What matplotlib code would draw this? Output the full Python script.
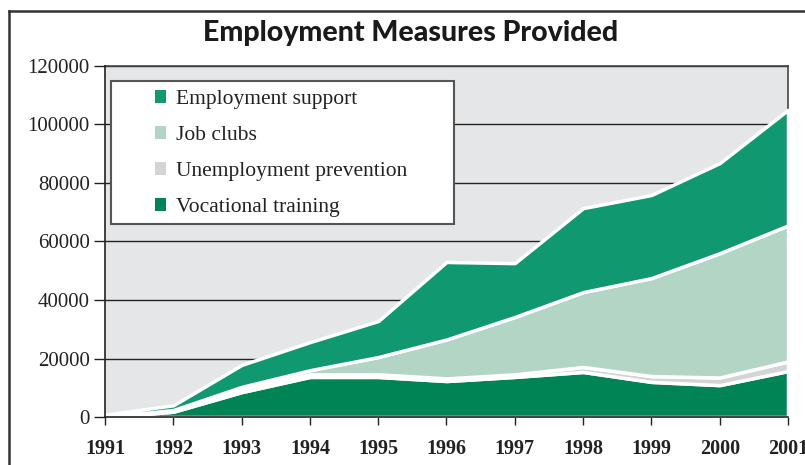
import matplotlib.pyplot as plt
from matplotlib.patches import Patch, Rectangle
from matplotlib.lines import Line2D

years = [1991, 1992, 1993, 1994, 1995, 1996, 1997, 1998, 1999, 2000, 2001]
vocational = [0, 1800, 8500, 13700, 13700, 12300, 13700, 15400, 12000, 10900, 15700]
unemp_prevention = [0, 300, 900, 900, 900, 900, 900, 1700, 2000, 2600, 3300]
job_clubs = [0, 300, 900, 1400, 5900, 13300, 19600, 25600, 33500, 42500, 46500]
emp_support = [800, 1600, 7500, 9600, 12300, 26500, 18400, 28700, 28400, 30800, 39500]

labels = ['Vocational training', 'Unemployment prevention', 'Job clubs', 'Employment support']
colors = ['#008456', '#d3d4d6', '#b3d5c6', '#109870']

fig = plt.figure(figsize=(8.05, 4.65), dpi=100)
ax = fig.add_axes([105/805, 1-417/465, 683/805, 351/465])
ax.set_facecolor('#e5e6e8')

polys = ax.stackplot(years, vocational, unemp_prevention, job_clubs, emp_support,
                     colors=colors, edgecolor='white', linewidth=2.5)
for p in polys:
    p.set_zorder(3)

ax.set_xlim(1991, 2001)
ax.set_ylim(0, 120000)
ax.set_yticks(range(0, 120001, 20000))
ax.set_xticks(years)
ax.grid(axis='y', color='#222222', linewidth=1)
ax.set_axisbelow(True)

for s in ['top', 'right']:
    ax.spines[s].set_color('#444444')
    ax.spines[s].set_linewidth(1.2)
for s in ['left', 'bottom']:
    ax.spines[s].set_color('#222222')
    ax.spines[s].set_linewidth(1.2)
    ax.spines[s].set_zorder(4)

ax.tick_params(axis='y', length=8, width=1, color='#222222', pad=3, labelsize=15)
ax.tick_params(axis='x', length=6, width=1, color='#222222', pad=10, labelsize=14.5)
for t in ax.get_yticklabels():
    t.set_fontfamily('Liberation Serif')
    t.set_color('#222222')
for t in ax.get_xticklabels():
    t.set_fontfamily('Liberation Serif')
    t.set_fontweight('bold')
    t.set_color('#222222')

# legend box
x0 = (111-105)/683
y0 = (417-224)/351
ax.add_patch(Rectangle((x0, y0), (454-111)/683, (224-81)/351, transform=ax.transAxes,
                       facecolor='white', edgecolor='#555555', linewidth=1.5, zorder=5))
handles = [Patch(facecolor=c, edgecolor='none') for c in colors[::-1]]
leg = ax.legend(handles, labels[::-1], loc='upper left', bbox_to_anchor=(0.0732, 0.931),
                frameon=False, borderpad=0, borderaxespad=0,
                prop={'family': 'Liberation Serif', 'size': 15.5},
                handlelength=0.52, handleheight=0.52, handletextpad=0.47, labelspacing=0.79)
leg.set_zorder(6)
for t in leg.get_texts():
    t.set_color('#222222')

fig.text(411/805, 1-33/465, 'Employment Measures Provided', ha='center', va='center',
         fontsize=20.5, fontweight='black', family='Lato', color='#1a1a1a')

# frame lines at top and left
fig.add_artist(Line2D([9/805, 1], [1-11/465, 1-11/465], transform=fig.transFigure,
                      color='#333333', linewidth=1.8))
fig.add_artist(Line2D([9/805, 9/805], [1-11/465, 0], transform=fig.transFigure,
                      color='#333333', linewidth=1.8))

fig.savefig('out.png', dpi=100)
